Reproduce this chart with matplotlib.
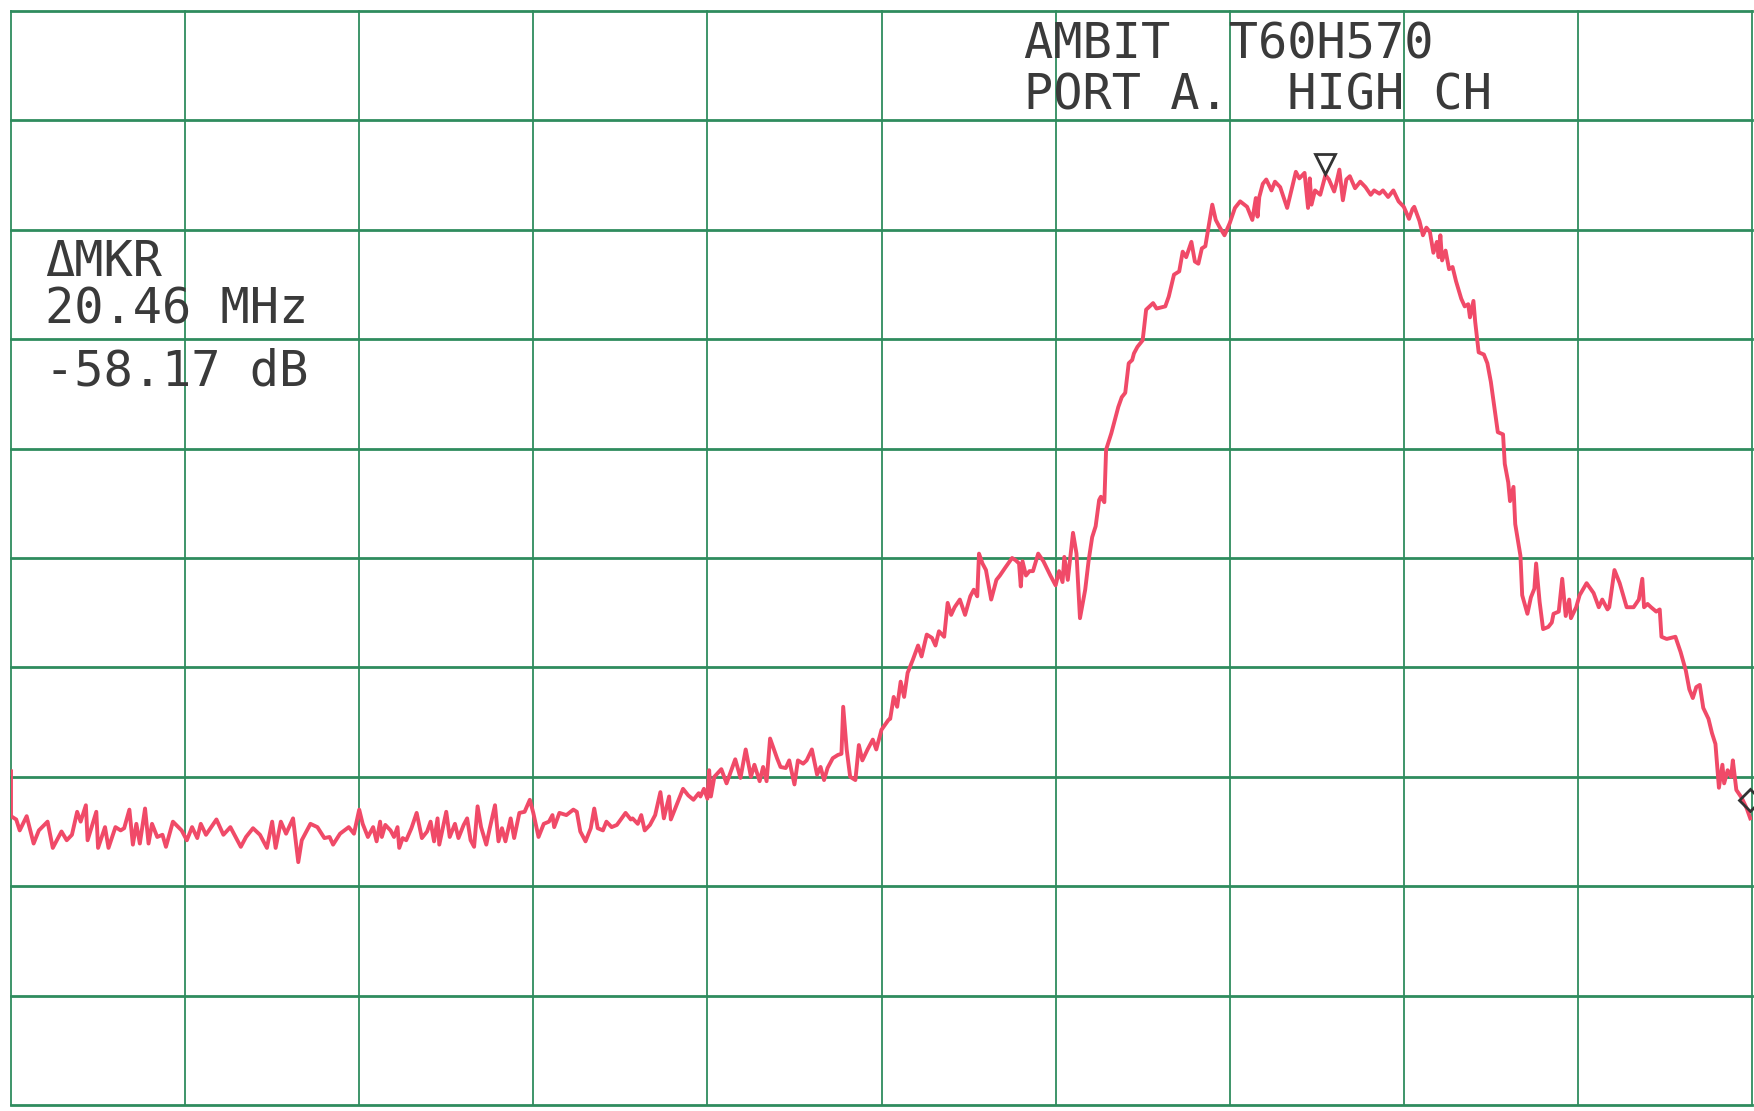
import matplotlib.pyplot as plt

# trace
# x in screen divisions (0..10), level in dB (top line = 0 dB, 10 dB/div)
x_div = [
    0.00, 0.00, 0.03, 0.05, 0.09, 0.13, 0.16, 0.21, 0.24, 0.29, 0.32, 0.35, 0.38, 0.40, 0.43, 0.44,
    0.49, 0.50, 0.54, 0.56, 0.60, 0.63, 0.65, 0.68, 0.70, 0.72, 0.74, 0.77, 0.79, 0.81, 0.84, 0.87,
    0.89, 0.93, 0.98, 1.01, 1.04, 1.07, 1.09, 1.12, 1.18, 1.22, 1.26, 1.32, 1.35, 1.39, 1.43, 1.47,
    1.50, 1.52, 1.55, 1.58, 1.62, 1.65, 1.67, 1.72, 1.76, 1.80, 1.83, 1.85, 1.89, 1.94, 1.97,
    2.00, 2.02, 2.05, 2.08, 2.10, 2.12, 2.13, 2.15, 2.18, 2.20, 2.22, 2.23, 2.25, 2.27, 2.30, 2.33,
    2.36, 2.39, 2.41, 2.43, 2.45, 2.46, 2.50, 2.52, 2.55, 2.57, 2.60, 2.62, 2.64, 2.66, 2.68, 2.70,
    2.73, 2.75, 2.78, 2.80, 2.82, 2.84, 2.87, 2.89, 2.92, 2.95, 2.98, 3.00, 3.03, 3.06, 3.09, 3.11,
    3.12, 3.15, 3.19, 3.23, 3.25, 3.27, 3.30, 3.33, 3.35, 3.37, 3.40, 3.42, 3.45, 3.48, 3.53, 3.56,
    3.57, 3.60, 3.62, 3.64, 3.67, 3.70, 3.73, 3.75, 3.78, 3.79, 3.82, 3.86, 3.89, 3.92, 3.95,
    3.96, 3.98, 4.00, 4.01, 4.02, 4.04, 4.08, 4.11, 4.16, 4.19, 4.22, 4.25, 4.27, 4.30, 4.32, 4.34,
    4.36, 4.40, 4.42, 4.45, 4.47, 4.50, 4.52, 4.55, 4.57, 4.60, 4.63, 4.65, 4.67, 4.69, 4.72, 4.75,
    4.77, 4.78, 4.80, 4.82, 4.85, 4.87, 4.89, 4.92, 4.95, 4.97, 5.00, 5.04, 5.05, 5.07, 5.09, 5.11,
    5.13, 5.15, 5.18, 5.21, 5.23, 5.26, 5.29, 5.31, 5.33, 5.36, 5.38, 5.40, 5.42, 5.45, 5.48, 5.51,
    5.53, 5.55, 5.56, 5.58, 5.60, 5.63, 5.66,
    5.68, 5.71, 5.75, 5.77, 5.79, 5.80, 5.81, 5.83, 5.85, 5.87, 5.90, 5.93, 5.97, 6.00, 6.02, 6.04,
    6.05, 6.07, 6.10, 6.12, 6.14, 6.17, 6.19, 6.21, 6.23, 6.25, 6.26, 6.28, 6.29, 6.32, 6.36, 6.38,
    6.40, 6.42, 6.44, 6.45, 6.47, 6.50, 6.52, 6.56, 6.58, 6.63, 6.65, 6.68, 6.71, 6.73, 6.75, 6.78,
    6.80, 6.82, 6.84, 6.86, 6.90, 6.92, 6.94, 6.97, 7.00, 7.03, 7.06, 7.10, 7.13, 7.15, 7.16, 7.17,
    7.19, 7.21, 7.24, 7.26, 7.29, 7.33, 7.38, 7.40, 7.43, 7.45, 7.46, 7.47, 7.49, 7.52, 7.55, 7.57,
    7.60, 7.61, 7.63, 7.65, 7.67, 7.69, 7.72, 7.75, 7.78, 7.81, 7.83, 7.86, 7.88, 7.91, 7.94, 7.97,
    8.00, 8.03, 8.05, 8.06, 8.09, 8.11, 8.13, 8.15, 8.17, 8.19, 8.20, 8.21, 8.22, 8.24, 8.26, 8.28,
    8.30, 8.33, 8.35, 8.37, 8.38, 8.40, 8.41, 8.43, 8.46, 8.48, 8.50, 8.52, 8.54, 8.57, 8.58, 8.60,
    8.61, 8.63, 8.64, 8.67, 8.68, 8.71, 8.73, 8.75, 8.76, 8.78, 8.80, 8.83, 8.85, 8.86, 8.89, 8.91,
    8.93, 8.95, 8.96, 8.99, 9.01, 9.05, 9.09, 9.12, 9.14, 9.17, 9.18, 9.21, 9.24, 9.28, 9.32, 9.35,
    9.37, 9.38, 9.40, 9.42, 9.45, 9.47, 9.48, 9.51, 9.56, 9.59, 9.62, 9.64, 9.66, 9.68, 9.70, 9.72,
    9.75, 9.77, 9.79, 9.81, 9.83, 9.84, 9.86, 9.88, 9.89, 9.91, 9.94, 9.97, 9.99,
]
level_db = [
    -69.5, -73.6, -73.9, -74.9, -73.6, -76.1, -74.9, -74.1, -76.5, -75.0, -75.8, -75.3, -73.2, -74.1, -72.6, -75.8,
    -73.2, -76.5, -74.6, -76.5, -74.6, -74.9, -74.7, -73.0, -76.2, -74.3, -76.1, -72.9, -76.1, -74.3, -75.5, -75.3,
    -76.4, -74.1, -74.9, -75.8, -74.6, -75.6, -74.3, -75.3, -73.9, -75.3, -74.6, -76.4, -75.5, -74.7, -75.3, -76.5,
    -74.1, -76.5, -74.1, -75.2, -73.8, -77.8, -75.8, -74.3, -74.6, -75.6, -75.5, -76.2, -75.2, -74.6, -75.2,
    -73.0, -74.3, -75.5, -74.6, -75.9, -74.1, -75.5, -74.4, -74.9, -75.5, -74.6, -76.5, -75.6, -75.8, -74.7, -73.3,
    -75.6, -75.0, -74.1, -75.9, -73.8, -76.2, -73.2, -75.5, -74.3, -75.6, -74.4, -73.8, -75.8, -76.4, -72.7, -74.6,
    -76.2, -74.7, -72.6, -75.9, -74.7, -75.9, -73.8, -75.6, -73.3, -73.2, -72.1, -73.3, -75.5, -74.3, -74.1, -73.5,
    -74.6, -73.3, -73.5, -73.0, -73.2, -75.0, -75.9, -74.7, -72.9, -74.7, -74.9, -74.1, -74.6, -74.4, -73.3, -73.9,
    -73.8, -74.3, -73.5, -74.9, -74.4, -73.5, -71.4, -73.8, -71.8, -73.9, -72.7, -71.1, -71.7, -72.1, -71.5,
    -71.8, -71.1, -72.0, -69.4, -71.8, -70.0, -69.3, -70.6, -68.4, -70.1, -67.5, -70.0, -68.9, -70.4, -69.1, -70.4,
    -66.5, -68.3, -69.1, -69.2, -68.5, -70.7, -68.5, -68.8, -68.5, -67.5, -69.8, -69.1, -70.3, -69.2, -68.3, -68.0,
    -67.9, -63.6, -67.5, -70.0, -70.3, -67.1, -68.5, -67.5, -66.6, -67.5, -65.7, -64.8, -64.7, -62.7, -63.6, -61.3,
    -62.7, -60.5, -59.3, -58.0, -59.0, -57.0, -57.3, -58.0, -56.7, -57.2, -54.1, -55.2, -54.5, -53.8, -55.2, -53.5,
    -52.9, -53.5, -49.6, -50.5, -51.1, -53.8, -52.0,
    -51.6, -50.9, -50.0, -50.2, -50.5, -52.6, -50.3, -51.6, -51.2, -51.2, -49.6, -50.3, -51.6, -52.5, -51.2, -52.2,
    -49.9, -52.0, -47.7, -49.6, -55.5, -52.9, -50.2, -48.1, -47.1, -44.7, -44.4, -44.9, -40.1, -38.6, -36.2, -35.3,
    -34.9, -32.2, -31.9, -31.3, -30.7, -30.1, -27.3, -26.7, -27.2, -27.0, -26.1, -24.1, -23.8, -22.0, -22.5, -21.1,
    -22.9, -23.1, -21.7, -21.5, -17.7, -19.1, -19.7, -20.5, -19.4, -18.0, -17.4, -17.9, -19.1, -17.1, -18.8, -17.0,
    -15.8, -15.4, -16.4, -15.6, -16.1, -18.0, -14.7, -15.3, -14.8, -18.0, -15.3, -17.7, -16.4, -16.8, -15.0, -15.4,
    -16.5, -15.9, -14.5, -17.3, -15.4, -15.1, -16.2, -15.6, -16.1, -16.8, -16.4, -16.7, -16.4, -17.0, -16.4, -17.4,
    -17.9, -19.0, -18.1, -17.9, -19.2, -20.5, -19.8, -20.2, -22.1, -21.1, -22.5, -20.5, -22.8, -21.9, -23.6, -23.4,
    -24.7, -26.3, -27.0, -26.8, -28.0, -26.5, -28.4, -31.2, -31.4, -32.2, -33.9, -36.2, -38.5, -38.7, -41.4, -43.1,
    -44.8, -43.5, -46.9, -49.8, -53.4, -55.1, -53.6, -52.8, -50.5, -54.0, -56.5, -56.3, -55.9, -55.1, -54.9, -51.9,
    -55.3, -53.8, -55.5, -54.5, -53.4, -52.3, -53.2, -54.5, -53.8, -54.7, -54.5, -51.1, -52.3, -54.5, -54.5, -53.8,
    -51.9, -54.5, -54.2, -54.5, -54.9, -54.7, -57.2, -57.4, -57.2, -58.6, -60.3, -62.0, -62.8, -61.8, -61.6, -63.7,
    -64.7, -66.0, -67.0, -71.0, -68.9, -70.6, -69.4, -70.0, -68.5, -71.2, -71.9, -72.9, -73.8,
]

# marker positions (division, dB)
peak_mkr = (7.55, -14.0)
delta_mkr = (9.99, -72.1)

header_lines = ['AMBIT  T60H570', 'PORT A.  HIGH CH']
mkr_lines = ['\u0394MKR', '20.46 MHz', '-58.17 dB']

grid_green = '#2f8c5e'
trace_red = '#f04a68'
ink = '#3a3a3a'

fig = plt.figure(figsize=(17.54, 11.11), dpi=100)
fig.patch.set_facecolor('white')
ax = fig.add_axes([11 / 1754, 6 / 1111, 1741 / 1754, 1094 / 1111])
ax.set_xlim(0, 10)
ax.set_ylim(-100, 0)
ax.axis('off')

# graticule 10 x 10
for xv in range(11):
    ax.axvline(xv, color=grid_green, lw=1.3, clip_on=False, zorder=1)
for yv in range(-100, 1, 10):
    ax.axhline(yv, color=grid_green, lw=2.0, clip_on=False, zorder=1)

ax.plot(x_div, level_db, color=trace_red, lw=2.8, zorder=3)

ax.plot(peak_mkr[0], peak_mkr[1], marker='v', ms=15, mfc='none', mec='#333333', mew=2,
        clip_on=False, zorder=4)
ax.plot(delta_mkr[0], delta_mkr[1], marker='D', ms=11, mfc='none', mec='#333333', mew=2,
        clip_on=False, zorder=4)

# annotation text
txt = dict(family='DejaVu Sans Mono', fontsize=35, color=ink, va='baseline', ha='left', zorder=5)
ax.text(5.82, -4.3, header_lines[0], **txt)
ax.text(5.82, -9.0, header_lines[1], clip_on=True, **txt)
ax.text(0.195, -24.2, mkr_lines[0], **txt)
ax.text(0.195, -28.6, mkr_lines[1], **txt)
ax.text(0.195, -34.2, mkr_lines[2], **txt)

fig.savefig('out.png', dpi=100, facecolor='white')
